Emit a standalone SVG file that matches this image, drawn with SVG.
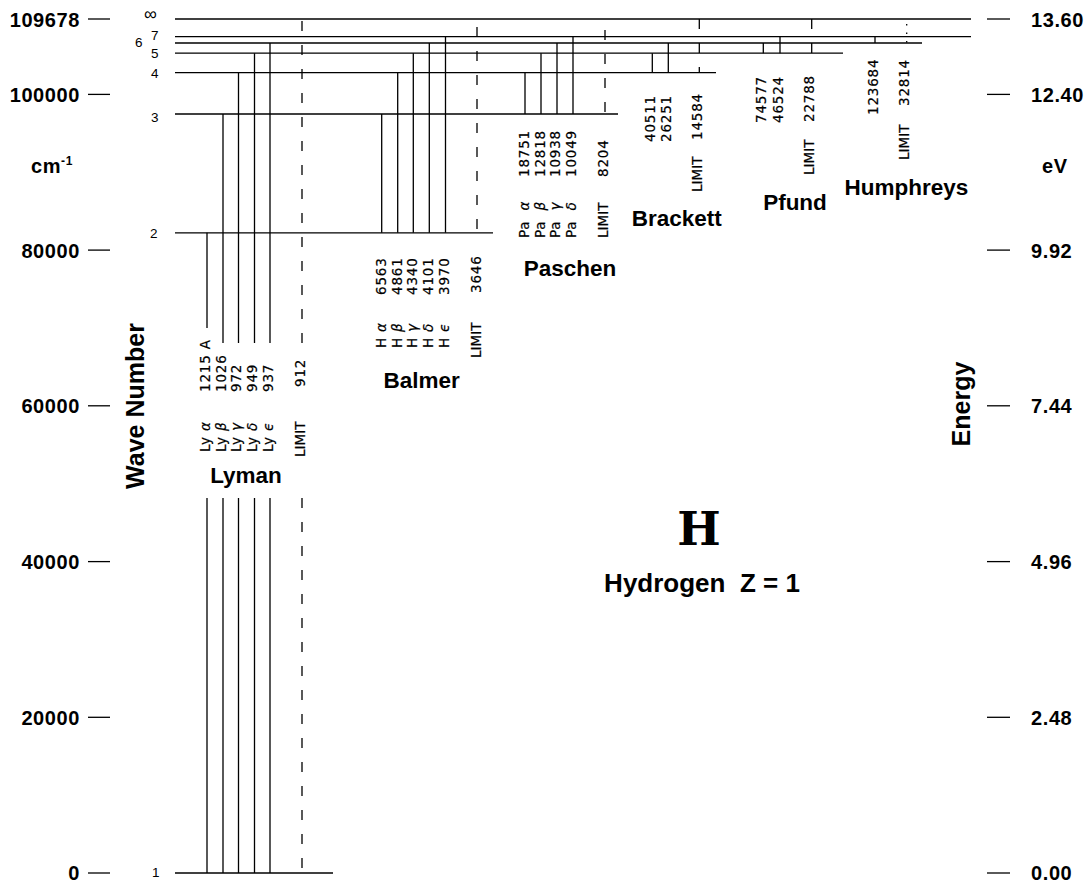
<svg xmlns="http://www.w3.org/2000/svg" width="1086" height="882" viewBox="0 0 1086 882">
<style>
.l{stroke:#000;stroke-width:1.3;fill:none}
.d{stroke:#000;stroke-width:1.3;fill:none;stroke-dasharray:10 14}
.dt{stroke:#000;stroke-width:1.3;fill:none;stroke-dasharray:1.5 7}
.ax{font-family:"Liberation Sans",Arial,sans-serif;font-weight:bold;font-size:20px;fill:#000;letter-spacing:0.6px}
.lv{font-family:"Liberation Sans",Arial,sans-serif;font-size:13.5px;fill:#000}
.s{font-family:"DejaVu Sans",sans-serif;font-size:13.5px;fill:#000;letter-spacing:0.8px;stroke:#000;stroke-width:0.2}
.g{font-style:italic}
.lim{font-family:"DejaVu Sans",sans-serif;font-size:13.5px;fill:#000;stroke:#000;stroke-width:0.2}
.ser{font-family:"Liberation Sans",Arial,sans-serif;font-weight:bold;font-size:22.5px;fill:#000;text-anchor:middle}
.big{font-family:"DejaVu Serif",serif;font-weight:bold;font-size:46px;fill:#000;text-anchor:middle}
.ttl{font-family:"Liberation Sans",Arial,sans-serif;font-weight:bold;font-size:26px;fill:#000;text-anchor:middle}
.axt{font-family:"Liberation Sans",Arial,sans-serif;font-weight:bold;font-size:25px;fill:#000;text-anchor:middle}
</style>

<g id="axis-left">
<g class="l">
<line x1="88" y1="19" x2="110" y2="19"/>
<line x1="88" y1="94.4" x2="110" y2="94.4"/>
<line x1="88" y1="250.1" x2="110" y2="250.1"/>
<line x1="88" y1="405.8" x2="110" y2="405.8"/>
<line x1="88" y1="561.6" x2="110" y2="561.6"/>
<line x1="88" y1="717.3" x2="110" y2="717.3"/>
<line x1="88" y1="873" x2="110" y2="873"/>
</g>
<g class="ax" text-anchor="end">
<text x="80" y="26.5">109678</text>
<text x="80" y="101.9">100000</text>
<text x="80" y="257.6">80000</text>
<text x="80" y="413.3">60000</text>
<text x="80" y="569.1">40000</text>
<text x="80" y="724.8">20000</text>
<text x="80" y="879.8">0</text>
</g>
<text class="ax" x="31" y="173">cm<tspan font-size="12" dy="-8">-1</tspan></text>
<text class="axt" transform="translate(143.5,406) rotate(-90)">Wave Number</text>
</g>

<g id="axis-right">
<g class="l">
<line x1="987" y1="19" x2="1010" y2="19"/>
<line x1="987" y1="94.4" x2="1010" y2="94.4"/>
<line x1="987" y1="250.1" x2="1010" y2="250.1"/>
<line x1="987" y1="405.8" x2="1010" y2="405.8"/>
<line x1="987" y1="561.6" x2="1010" y2="561.6"/>
<line x1="987" y1="717.3" x2="1010" y2="717.3"/>
<line x1="987" y1="873" x2="1010" y2="873"/>
</g>
<g class="ax">
<text x="1031" y="26.5">13.60</text>
<text x="1031" y="101.9">12.40</text>
<text x="1031" y="257.6">9.92</text>
<text x="1031" y="413.3">7.44</text>
<text x="1031" y="569.1">4.96</text>
<text x="1031" y="724.8">2.48</text>
<text x="1031" y="879.8">0.00</text>
</g>
<text class="ax" x="1042" y="173">eV</text>
<text class="axt" transform="translate(970,404) rotate(-90)">Energy</text>
</g>

<g id="levels">
<g class="l">
<line x1="175" y1="19" x2="971" y2="19"/>
<line x1="175" y1="36.7" x2="971" y2="36.7"/>
<line x1="175" y1="43" x2="922" y2="43"/>
<line x1="175" y1="53.2" x2="843" y2="53.2"/>
<line x1="175" y1="72.6" x2="716" y2="72.6"/>
<line x1="175" y1="114" x2="618" y2="114"/>
<line x1="175" y1="232.8" x2="493" y2="232.8"/>
<line x1="175" y1="873" x2="333" y2="873"/>
</g>
<g class="lv">
<text x="144" y="20" font-size="18">∞</text>
<text x="151" y="40">7</text>
<text x="135" y="47">6</text>
<text x="151" y="58">5</text>
<text x="151" y="77.5">4</text>
<text x="151" y="121.5">3</text>
<text x="150" y="237.5">2</text>
<text x="152" y="877">1</text>
</g>
</g>

<g id="connectors">
<g id="lyman-lines">
<path class="l" d="M207,232.8V328M207,498V873M223,114V343M223,498V873M238.5,72.6V343M238.5,498V873M254.5,53.2V343M254.5,498V873M270,43V343M270,498V873"/>
<path class="d" d="M302,21V350M302,498V873"/>
</g>
<g id="balmer-lines">
<path class="l" d="M381.7,114V232.8M397.7,72.6V232.8M413.3,53.2V232.8M429.3,43V232.8M445.5,36.7V232.8"/>
<path class="d" d="M477,27V232.8"/>
</g>
<g id="paschen-lines">
<path class="l" d="M525,72.6V114M541,53.2V114M557,43V114M573,36.7V114"/>
<path class="d" d="M605,30V114"/>
</g>
<g id="brackett-lines">
<path class="l" d="M652.3,53.2V72.6M668.3,43V72.6"/>
<path class="d" d="M699.3,19V72.6"/>
</g>
<g id="pfund-lines">
<path class="l" d="M763.3,43V53.2M780,36.7V53.2"/>
<path class="d" d="M811.7,19V53.2"/>
</g>
<g id="humphreys-lines">
<path class="l" d="M875,36.7V43"/>
<path class="dt" d="M906.7,24V43"/>
</g>
</g>

<g id="lyman">
<text class="s" transform="translate(209.5,392) rotate(-90)">1215 A</text>
<text class="s" transform="translate(225.5,392) rotate(-90)">1026</text>
<text class="s" transform="translate(241,392) rotate(-90)">972</text>
<text class="s" transform="translate(257,392) rotate(-90)">949</text>
<text class="s" transform="translate(272.5,392) rotate(-90)">937</text>
<text class="s" transform="translate(304.5,387) rotate(-90)">912</text>
<text class="s" transform="translate(209.5,452) rotate(-90)">Ly <tspan class="g">α</tspan></text>
<text class="s" transform="translate(225.5,452) rotate(-90)">Ly <tspan class="g">β</tspan></text>
<text class="s" transform="translate(241,452) rotate(-90)">Ly <tspan class="g">γ</tspan></text>
<text class="s" transform="translate(257,452) rotate(-90)">Ly <tspan class="g">δ</tspan></text>
<text class="s" transform="translate(272.5,452) rotate(-90)">Ly <tspan class="g">ϵ</tspan></text>
<text class="lim" transform="translate(304.5,457) rotate(-90)">LIMIT</text>
<text class="ser" x="246" y="483">Lyman</text>
</g>

<g id="balmer">
<text class="s" transform="translate(385.5,295) rotate(-90)">6563</text>
<text class="s" transform="translate(401.5,295) rotate(-90)">4861</text>
<text class="s" transform="translate(417,295) rotate(-90)">4340</text>
<text class="s" transform="translate(433,295) rotate(-90)">4101</text>
<text class="s" transform="translate(449,295) rotate(-90)">3970</text>
<text class="s" transform="translate(480.5,293) rotate(-90)">3646</text>
<text class="s" transform="translate(385.5,348) rotate(-90)">H <tspan class="g">α</tspan></text>
<text class="s" transform="translate(401.5,348) rotate(-90)">H <tspan class="g">β</tspan></text>
<text class="s" transform="translate(417,348) rotate(-90)">H <tspan class="g">γ</tspan></text>
<text class="s" transform="translate(433,348) rotate(-90)">H <tspan class="g">δ</tspan></text>
<text class="s" transform="translate(449,348) rotate(-90)">H <tspan class="g">ϵ</tspan></text>
<text class="lim" transform="translate(480.5,358) rotate(-90)">LIMIT</text>
<text class="ser" x="421.7" y="388">Balmer</text>
</g>

<g id="paschen">
<text class="s" transform="translate(528.5,177) rotate(-90)">18751</text>
<text class="s" transform="translate(544.5,177) rotate(-90)">12818</text>
<text class="s" transform="translate(560,177) rotate(-90)">10938</text>
<text class="s" transform="translate(576,177) rotate(-90)">10049</text>
<text class="s" transform="translate(607.5,177) rotate(-90)">8204</text>
<text class="s" transform="translate(528.5,238) rotate(-90)">Pa&#160;&#160;<tspan class="g">α</tspan></text>
<text class="s" transform="translate(544.5,238) rotate(-90)">Pa&#160;&#160;<tspan class="g">β</tspan></text>
<text class="s" transform="translate(560,238) rotate(-90)">Pa&#160;&#160;<tspan class="g">γ</tspan></text>
<text class="s" transform="translate(576,238) rotate(-90)">Pa&#160;&#160;<tspan class="g">δ</tspan></text>
<text class="lim" transform="translate(607.5,238) rotate(-90)">LIMIT</text>
<text class="ser" x="570" y="276">Paschen</text>
</g>

<g id="brackett">
<text class="s" transform="translate(655,142) rotate(-90)">40511</text>
<text class="s" transform="translate(671,142) rotate(-90)">26251</text>
<text class="s" transform="translate(702,140) rotate(-90)">14584</text>
<text class="lim" transform="translate(702,192) rotate(-90)">LIMIT</text>
<text class="ser" x="676.7" y="226">Brackett</text>
</g>

<g id="pfund">
<text class="s" transform="translate(766,123) rotate(-90)">74577</text>
<text class="s" transform="translate(782.5,123) rotate(-90)">46524</text>
<text class="s" transform="translate(814,122) rotate(-90)">22788</text>
<text class="lim" transform="translate(814,175) rotate(-90)">LIMIT</text>
<text class="ser" x="795" y="210">Pfund</text>
</g>

<g id="humphreys">
<text class="s" transform="translate(877.5,115) rotate(-90)">123684</text>
<text class="s" transform="translate(909,106) rotate(-90)">32814</text>
<text class="lim" transform="translate(909,160) rotate(-90)">LIMIT</text>
<text class="ser" x="906.5" y="195">Humphreys</text>
</g>

<g id="title">
<text class="big" x="699" y="545">H</text>
<text class="ttl" x="702" y="592">Hydrogen&#160;&#160;Z = 1</text>
</g>
</svg>
